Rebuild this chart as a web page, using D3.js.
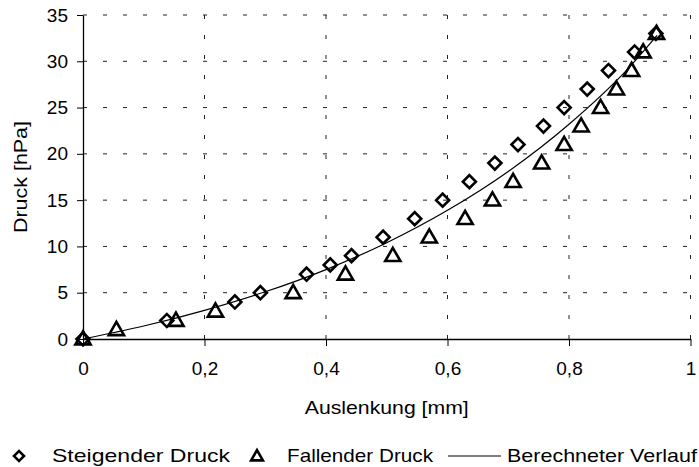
<!DOCTYPE html>
<html>
<head>
<meta charset="utf-8">
<script src="https://cdn.jsdelivr.net/npm/d3@7/dist/d3.min.js"></script>
<style>
    body { margin: 0; background: #fff; }
    text { font-family: "Liberation Sans", Arial, sans-serif; fill: #000; }
</style>
</head>
<body>
<svg id="chart" width="699" height="467"></svg>
<script>
const steigendX = [0, 0.138, 0.25, 0.292, 0.368, 0.407, 0.442, 0.494, 0.546, 0.592, 0.636, 0.678, 0.716, 0.758, 0.792, 0.830, 0.865, 0.908, 0.943];
const steigendY = [0, 2, 4, 5, 7, 8, 9, 11, 13, 15, 17, 19, 21, 23, 25, 27, 29, 31, 33];

const fallendX = [0, 0.055, 0.153, 0.218, 0.346, 0.432, 0.51, 0.57, 0.629, 0.674, 0.708, 0.755, 0.792, 0.82, 0.852, 0.878, 0.903, 0.922, 0.944];
const fallendY = [0, 1, 2, 3, 5, 7, 9, 11, 13, 15, 17, 19, 21, 23, 25, 27, 29, 31, 33];

// calculated curve
const verlaufX = [0, 0.1, 0.2, 0.3, 0.4, 0.5, 0.6, 0.7, 0.8, 0.9, 0.945];
const verlaufY = [0, 1.4, 3.1, 5.1, 7.5, 10.4, 13.9, 18.1, 23.2, 29.4, 32.8];

const xTicks = [0, 0.2, 0.4, 0.6, 0.8, 1];
const yTicks = [0, 5, 10, 15, 20, 25, 30, 35];

const legendLabels = ["Steigender Druck", "Fallender Druck", "Berechneter Verlauf"];
const xTitle = "Auslenkung [mm]";
const yTitle = "Druck [hPa]";

let svg = d3.select("#chart");
let fontSize = 19;

let plotLeft = 83, plotRight = 690.5, plotTop = 15, plotBottom = 339;

let x = d3.scaleLinear().domain([0, 1]).range([plotLeft, plotRight]);
let y = d3.scaleLinear().domain([0, 35]).range([plotBottom, plotTop]);

// dashed grid
let grid = svg.append("g").attr("stroke", "#222").attr("stroke-width", 1)
    .attr("stroke-dasharray", "4,16");
grid.selectAll("line.h").data(yTicks.filter(d => d > 0)).enter()
    .append("line").attr("class", "h")
    .attr("x1", plotLeft).attr("x2", plotRight)
    .attr("y1", d => y(d)).attr("y2", d => y(d));
grid.selectAll("line.v").data(xTicks.filter(d => d > 0)).enter()
    .append("line").attr("class", "v")
    .attr("x1", d => x(d)).attr("x2", d => x(d))
    .attr("y1", plotBottom).attr("y2", plotTop);

// axes
let fmt = d => String(d).replace(".", ",");

let xAxis = d3.axisBottom(x).tickValues(xTicks).tickFormat(fmt)
    .tickSize(7).tickPadding(16).tickSizeOuter(0);
let gx = svg.append("g").attr("transform", "translate(0," + plotBottom + ")").call(xAxis);

let yAxis = d3.axisLeft(y).tickValues(yTicks).tickFormat(fmt)
    .tickSize(6).tickPadding(9).tickSizeOuter(0);
let gy = svg.append("g").attr("transform", "translate(" + plotLeft + ",0)").call(yAxis);

[gx, gy].forEach(function (g) {
    g.selectAll("text").style("font-size", fontSize + "px")
        .style("font-family", '"Liberation Sans", Arial, sans-serif');
    g.select(".domain").attr("stroke", "#000").attr("stroke-width", 1.3);
    g.selectAll(".tick line").attr("stroke", "#000");
});

// titles
svg.append("text")
    .attr("x", (plotLeft + plotRight) / 2).attr("y", 414)
    .attr("text-anchor", "middle")
    .attr("textLength", 164)
    .attr("lengthAdjust", "spacingAndGlyphs")
    .style("font-size", fontSize + "px")
    .text(xTitle);

svg.append("text")
    .attr("transform", "translate(27," + ((plotTop + plotBottom) / 2) + ") rotate(-90)")
    .attr("text-anchor", "middle")
    .attr("textLength", 112)
    .attr("lengthAdjust", "spacingAndGlyphs")
    .style("font-size", fontSize + "px")
    .text(yTitle);

// calculated curve
let curveData = verlaufX.map((d, i) => ({x: d, y: verlaufY[i]}));
let line = d3.line().x(d => x(d.x)).y(d => y(d.y)).curve(d3.curveMonotoneX);
svg.append("path").datum(curveData)
    .attr("d", line)
    .attr("fill", "none").attr("stroke", "#000").attr("stroke-width", 1.2);

// markers
let diamond = d3.symbol().type(d3.symbolSquare).size(85);
let triangle = d3.symbol().type(d3.symbolTriangle).size(100);

let steigend = steigendX.map((d, i) => ({x: d, y: steigendY[i]}));
let fallend = fallendX.map((d, i) => ({x: d, y: fallendY[i]}));

svg.append("g").selectAll("path").data(fallend).enter()
    .append("path")
    .attr("d", triangle)
    .attr("transform", d => "translate(" + x(d.x) + "," + (y(d.y) + 1) + ")")
    .attr("fill", "none").attr("stroke", "#000").attr("stroke-width", 2.6)
    .attr("stroke-linejoin", "miter");

svg.append("g").selectAll("path").data(steigend).enter()
    .append("path")
    .attr("d", diamond)
    .attr("transform", d => "translate(" + x(d.x) + "," + y(d.y) + ") rotate(45)")
    .attr("fill", "none").attr("stroke", "#000").attr("stroke-width", 2.6);

// legend
let legendY = 456;
let lg = svg.append("g");
lg.append("path").attr("d", d3.symbol().type(d3.symbolSquare).size(50))
    .attr("transform", "translate(19," + legendY + ") rotate(45)")
    .attr("fill", "none").attr("stroke", "#000").attr("stroke-width", 2.6);
lg.append("path").attr("d", d3.symbol().type(d3.symbolTriangle).size(60))
    .attr("transform", "translate(257," + (legendY + 1) + ")")
    .attr("fill", "none").attr("stroke", "#000").attr("stroke-width", 2.6);
lg.append("line").attr("x1", 448).attr("x2", 501)
    .attr("y1", legendY).attr("y2", legendY)
    .attr("stroke", "#000").attr("stroke-width", 1.2);

let legendPos = [[52, 178], [287, 146], [507, 190]];
lg.selectAll("text").data(legendLabels).enter()
    .append("text")
    .attr("x", (d, i) => legendPos[i][0])
    .attr("y", legendY + 6)
    .attr("textLength", (d, i) => legendPos[i][1])
    .attr("lengthAdjust", "spacingAndGlyphs")
    .style("font-size", fontSize + "px")
    .text(d => d);
</script>
</body>
</html>
